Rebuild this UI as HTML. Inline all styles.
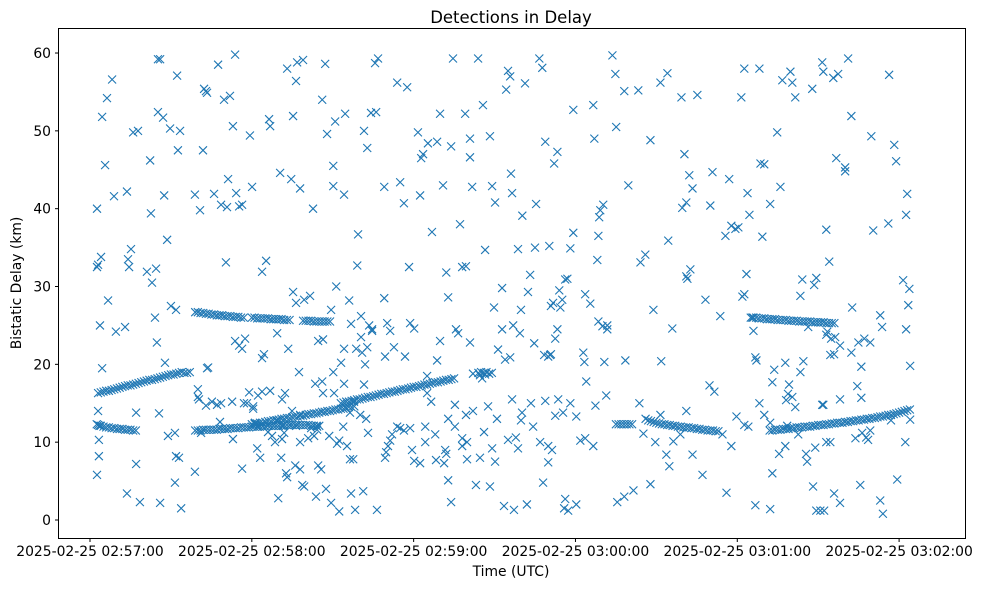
<!DOCTYPE html>
<html><head><meta charset="utf-8"><style>
html,body{margin:0;padding:0;background:#fff;}
svg{display:block;font-family:"DejaVu Sans","Liberation Sans",sans-serif;}
</style></head><body>
<svg id="chart" width="981" height="590" viewBox="0 0 981 590" xmlns="http://www.w3.org/2000/svg">
<rect x="0" y="0" width="981" height="590" fill="#fff"/>
<text x="511" y="23" text-anchor="middle" font-size="16.5" fill="#000">Detections in Delay</text>
<g id="marks"></g>
<rect x="58.5" y="28.5" width="907" height="510" fill="none" stroke="#000" stroke-width="1"/>
<g id="xaxis"></g>
<g id="yaxis"></g>
<text x="511" y="576" text-anchor="middle" font-size="13.9" fill="#000">Time (UTC)</text>
<text transform="translate(21,283) rotate(-90)" text-anchor="middle" font-size="13.9" fill="#000">Bistatic Delay (km)</text>
</svg>
<script>
// time in seconds after 2025-02-25 02:57:00 UTC, delay in km
const xTickSeconds = [0, 60, 120, 180, 240, 300];
const xTickLabels = ["2025-02-25 02:57:00","2025-02-25 02:58:00","2025-02-25 02:59:00","2025-02-25 03:00:00","2025-02-25 03:01:00","2025-02-25 03:02:00"];
const yTicks = [0, 10, 20, 30, 40, 50, 60];
const trackAT = [3,4,5,6,7,8,9,10,11,12,13,14,15,16,17,18,19,20,21,22,23,24,25,26,27,28,29,30,31,32,33,34,35,36,37];
const trackAD = [16.3,16.4,16.5,16.6,16.6,16.7,16.8,16.9,17,17.1,17.2,17.3,17.3,17.4,17.5,17.6,17.7,17.8,17.9,18,18,18.1,18.2,18.3,18.4,18.5,18.6,18.7,18.7,18.8,18.9,19,18.9,18.9,19];
const trackBT = [2.5,3,3.5,4,5,6,7,8,9,10,11,12,13,14,15,16,17];
const trackBD = [12.3,12.2,12.1,12.1,12,11.9,11.9,11.8,11.8,11.7,11.7,11.7,11.6,11.6,11.6,11.5,11.5];
const trackCT = [39,40,41,42,43,44,45,46,47,48,49,50,51,52,53,54,55,56,57,58,59,60,61,62,63,64,65,66,67,68,69,70,71,72,73,74,75,76,77,78,79,80,81,82,83,84,85];
const trackCD = [11.5,11.5,11.5,11.6,11.6,11.6,11.6,11.6,11.6,11.7,11.7,11.7,11.7,11.8,11.8,11.8,11.8,11.9,11.9,11.9,11.9,12,12,12,12,12,12,12.1,12.1,12.1,12.1,12.1,12.1,12.2,12.2,12.2,12.2,12.2,12.2,12.2,12.2,12.2,12.2,12.1,12.1,12.1,12.1];
const trackDT = [60,61,62,63,64,65,66,67,68,69,70,71,72,73,74,75,76,77,78,79,80,81,82,83,84,85,86,87,88,89,90,91,92,93,94,95,96,97,98];
const trackDD = [12.3,12.4,12.4,12.5,12.5,12.6,12.7,12.7,12.8,12.8,12.9,13,13,13.1,13.1,13.2,13.3,13.3,13.4,13.4,13.5,13.6,13.6,13.7,13.7,13.8,13.9,13.9,14,14,14.1,14.2,14.2,14.3,14.3,14.4,14.5,14.5,14.6];
const trackET = [39,40,41,42,43,44,45,46,47,48,49,50,51,52,53,54,55,56,57,60,61,62,63,64,65,66,67,68,69,70,71,72,73,74,79,80,81,82,83,84,85,86,87,88,89];
const trackED = [26.7,26.7,26.6,26.6,26.5,26.5,26.4,26.4,26.3,26.3,26.3,26.2,26.2,26.2,26.1,26.1,26.1,26,26,26,26,25.9,25.9,25.9,25.9,25.9,25.8,25.8,25.8,25.8,25.8,25.7,25.7,25.7,25.6,25.6,25.6,25.6,25.5,25.5,25.5,25.5,25.5,25.5,25.5];
const trackFT = [93,94,95,96,97,98,99,100,101,102,103,104,105,106,107,108,109,110,111,112,113,114,115,116,117,118,119,120,121,122,123,124,125,126,127,128,129,130,131,132,133,134,135,144,145,146,147,148,149];
const trackFD = [15,15.1,15.2,15.2,15.3,15.4,15.5,15.5,15.6,15.7,15.8,15.8,15.9,16,16.1,16.2,16.2,16.3,16.4,16.5,16.5,16.6,16.7,16.8,16.8,16.9,17,17.1,17.1,17.2,17.3,17.4,17.4,17.5,17.6,17.7,17.7,17.8,17.9,18,18,18.1,18.2,18.9,19,18.9,19,18.8,18.9];
const trackGT = [195,196,197,198,199,200,201];
const trackGD = [12.3,12.3,12.3,12.3,12.3,12.3,12.3];
const trackHT = [206,207,208,209,210,211,212,213,214,215,216,217,218,219,220,221,222,223,224,225,226,227,228,229,230,231,232,233];
const trackHD = [13,12.8,12.7,12.6,12.5,12.4,12.3,12.3,12.2,12.2,12.1,12.1,12,12,11.9,11.9,11.9,11.8,11.8,11.7,11.7,11.6,11.6,11.5,11.5,11.5,11.4,11.4];
const trackIT = [245,246,247,248,249,250,251,252,253,254,255,256,257,258,259,260,261,262,263,264,265,266,267,268,269,270,271,272,273,274,275,276];
const trackID = [26,26,26,25.9,25.9,25.9,25.8,25.8,25.8,25.8,25.7,25.7,25.7,25.7,25.6,25.6,25.6,25.6,25.5,25.5,25.5,25.5,25.5,25.4,25.4,25.4,25.4,25.4,25.3,25.3,25.3,25.3];
const trackJT = [252,253,254,255,256,257,258,259,260,261,262,263,264,265,266,267,268,269,270,271,272,273,274,275,276,277,278,279,280,281,282,283,284,285,286,287,288,289,290,291,292,293,294,295,296,297,298,299,300,301,302,303,304];
const trackJD = [11.5,11.5,11.6,11.6,11.6,11.7,11.7,11.7,11.8,11.8,11.9,11.9,11.9,12,12,12,12.1,12.1,12.2,12.2,12.2,12.3,12.3,12.4,12.4,12.5,12.5,12.5,12.6,12.6,12.7,12.7,12.8,12.8,12.9,12.9,13,13,13.1,13.1,13.2,13.3,13.3,13.4,13.5,13.5,13.6,13.7,13.8,13.9,14,14.1,14.2];
const noisePoints = [
[2.6,40],[2.6,32.5],[3,32.8],[3.7,25],[4.1,33.8],[4.5,51.8],[5.6,45.6],[6.3,54.2],[6.7,28.2],[8.2,56.6],[8.9,41.6],[9.6,24.2],[3,14],[3.3,10.3],[3.3,8.2],[2.6,5.8],[4.5,19.5],[13.7,42.2],[14.1,33.5],[14.5,32.5],[13,24.8],[16,49.8],[17.8,50],[15.2,34.8],[17.1,13.8],[17.1,7.2],[18.5,2.3],[13.7,3.4],[21.1,31.9],[22.3,46.2],[22.6,39.4],[23,30.5],[24.1,26],[24.5,32.3],[24.8,22.8],[25.2,59.2],[26,59.2],[25.2,52.4],[27.1,51.7],[27.5,41.7],[28.6,36],[29.7,50.3],[30,27.5],[32.3,57.1],[32.6,47.5],[33.4,50],[31.9,27],[26,2.2],[25.6,13.7],[27.8,20.2],[28.9,10.8],[31.5,11.2],[31.9,8.2],[33,8],[33.8,1.5],[31.5,4.8],
[38.9,41.8],[40.8,39.8],[41.9,47.5],[42.3,55.4],[43,55.1],[43.4,54.9],[40,16.8],[40.4,15.5],[43.4,19.5],[43.8,19.6],[46,41.9],[47.5,58.5],[48.6,40.5],[49.7,54],[50.4,33.1],[51.2,43.8],[50.8,40.2],[51.9,54.5],[53,50.6],[53.8,59.8],[54.2,42],[55.3,40.3],[56.4,40.5],[59.3,49.4],[60.1,42.8],[63.8,31.9],[65.3,33.3],[66.4,51.5],[66.8,50.6],[70.5,44.6],[73.1,58],[74.6,43.8],[75.3,51.9],[76.4,56.4],[76.8,58.8],[77.9,42.6],[79,59.1],[82.7,40],[86.1,54],[87.2,58.6],[87.9,49.6],[90.2,45.5],[90.2,42.9],[90.9,51.2],[94.6,52.2],[94.2,41.8],
[63.8,20.8],[64.5,21.3],[69.4,24],[73.5,22],[75.3,29.3],[76.4,27.9],[79.4,28.3],[81.6,28.8],[84.6,23],[86.4,23.2],[89.4,27],[91.3,30],[94.2,22],[53.8,23],[55.3,22.4],[56.4,22],[57.5,23.3],[56.4,6.6],[62,9.2],[63.1,8],[68.6,10],[70.9,8],[69.8,2.8],[73.1,5.5],[72.7,6],[76.1,7],[78.7,4.5],[79.4,4.3],[80.9,10.5],[83.8,3],[84.6,7],[85.7,6.5],[89.4,2.2],[92.4,1.1],[98.3,1.3],[86.1,17.8],[90.2,19],[83.5,17.5],[93.1,20.2],[94.2,17.5],[86.4,16.3],[66.8,16.6],[71.2,15.5],[69.4,12.8],[60.5,14.6],[58.2,15],[62.3,12],[77.9,10],[77.5,19],[74.9,14],[90.5,16.3],[99.1,32.7],[99.4,36.7],[100.5,26.2],[100.9,21.5],[102,20],[102.8,22.2],[103.5,25],[104.6,24.3],[100.5,23.5],
[102.8,47.8],[101.6,50],[104.2,52.3],[105.7,58.7],[106.8,59.3],[106.1,52.4],[109.1,42.8],[113.9,56.2],[115,43.4],[116.4,40.7],[117.6,55.6],[118.3,32.5],[121.6,49.8],[122.4,41.7],[122.8,46.5],[123.5,47],[125.3,48.4],[126.8,37],[128.7,48.6],[129.8,52.2],[130.9,43],[133.9,48],[134.6,59.3],[137.2,38],[138,32.5],[139.1,52.2],[139.4,32.6],[140.9,46.6],[143.9,59.3],[145.7,53.3],[148.3,49.3],[149.1,42.9],[150.2,40.8],[152.8,24.5],[154.3,55.3],[155,57.7],[155.8,57],[156.1,44.5],[156.5,42],[158.7,34.8],[160.3,39.1],[161.3,56.1],[165.4,40.6],[166.6,59.3],[167.7,58.1],[168.8,48.6],[170.3,35.2],[172.1,45.8],[173.3,47.3],[174.4,27.3],[175.1,28.3],[176.2,30.9],[177,31],[178.1,34.9],[174,29.5],[179.2,52.7],[179.2,36.9],[182.9,21.5],[183.3,20.3],[183.6,29],[185.5,27.8],[186.6,53.3],[187,49],[188.1,33.4],[188.5,36.5],[188.8,38.9],[189.2,39.8],[190.3,40.5],[191.8,25],[193.7,59.7],[194.8,57.3],[195.1,50.5],[198.1,55.1],[199.6,43],[203.3,55.2],[204.1,33.1],[205.9,34.1],[207.8,48.8],[208.9,27],[211.5,56.2],[214.1,57.4],[214.4,35.9],[215.9,24.6],[219.3,54.3],[219.6,40.1],[220.4,47],[221.1,40.8],[222.2,44.3],[223.4,42.6],[222.6,32.2],[221.1,31.3],[221.5,31],[225.2,54.6],[228.2,28.3],[230,40.4],[230.8,44.7],[233.7,26.2],[235.6,36.5],[237,43.8],[237.8,37.8],[239.3,37.4],[240.4,37.6],[241.5,54.3],[242.6,58],[243.4,31.6],[242.6,29],[243.8,42],[244.5,39.2],[245.6,26],[246,24.3],[246.7,20.9],[247.1,20.5],[248.2,58],[248.6,45.8],[249.3,36.4],[250,45.7],[252.2,40.6],[253,17.7],[253.7,19.3],[254.8,49.8],[256,42.8],[256.7,56.5],[259.7,57.6],[260.4,56.2],[261.5,54.3],[263.4,28.8],[264.1,30.9],[264.5,20.4],[266.3,24.8],[267.8,55.4],[268.5,30.2],[269.3,31.1],[271.5,58.8],[271.9,57.6],[273,37.3],[273.4,24.2],[274.1,33.2],[274.8,23.3],[275.6,56.8],[276.7,46.5],[277.4,57.3],[280,45.3],[280,44.8],[281.1,59.3],[282.3,51.9],[282.6,27.3],[284.5,17.2],[286,15.7],[286,19.7],[289.7,49.3],[290.4,37.2],[293,26.3],[293.7,24.8],[296,38.1],[296.3,57.2],[298.2,48.2],[298.9,46.1],[301.5,30.8],[302.6,39.2],[302.6,24.5],[303,41.9],[303.8,29.7],[303.4,27.6],[304.1,19.8],[302.3,10],[304.1,12.9],[299.3,5.2],[297,12.8],[293,2.5],[294,0.8],[285.6,4.5],[283.8,10.5],[286.3,11.2],[287.8,10.6],[289.3,11.5],[288.5,10.3],[278.1,2.2],[275.9,3.4],[272.2,1.2],[269.3,1.2],[268.1,4.3],[265.5,8.5],[265.9,7.5],[268.9,9.3],[273,10],[274.5,10],[270.8,1.2],[257.8,9.5],[255.5,8.5],[253,6],[252.2,1.4],[246.7,1.9],[248.2,15],[250,13.5],[252.2,12.5],[258.5,12.1],[258.1,15.4],[261.5,14.5],[257.8,20.2],[259.2,17.4],[258.8,16.2],[260.4,15.8],[262.6,11],[263.4,19],[271.5,14.8],[271.9,14.8],[274.5,21.2],[276.3,23.5],[278.1,15.5],[278.1,22.4],[282.3,21.5],[284.9,22.8],[287.1,23.3],[289.3,22.8],[273,23.8],[275.9,21.3],
[135.3,12],[138,10.5],[138,9.5],[139.4,13.5],[139.8,7.8],[139.8,10],[142,14],[143.1,4.5],[144.6,8],[146.1,11.3],[148.3,4.3],[149.1,9.2],[150.2,7.5],[150.9,13],[153.5,1.8],[155,10.3],[156.5,15.5],[157.2,1.3],[157.9,10.6],[158.7,9.2],[159.8,12.8],[160.2,13.8],[162,2],[163.5,15],[164.3,12],[166.9,10],[168,4.8],[168.8,15.3],[169.9,9.5],[169.9,7.4],[171.3,9],[172.5,13.4],[173.6,15.5],[175.4,13.8],[175.8,1.5],[176.2,2.7],[177.3,1.2],[178.1,15],[180.3,2],[180.3,13.3],[181.8,10.2],[183.6,10.5],[184,17.8],[186.6,9.5],[187.4,14.7],[188.5,25.5],[190,24.9],[190.7,20.3],[191.4,16],[191.8,24.5],[195.5,2.3],[198.1,3],[198.5,20.5],[201.5,3.8],[203.7,15],[205.2,11.1],[207.8,4.6],[209.6,10],[211.5,13.5],[211.8,20.4],[213.7,8.4],[214.8,6.9],[216.3,10.1],[218.9,11],[221.1,14],[223.4,8.4],[227.1,5.8],[229.7,17.3],[231.5,16.5],[234.5,11],[236,3.5],[239.7,13.3],[241.9,28.7],[237.8,9.5],[242.6,12.2],[244.1,12],
[124.3,10],[124.3,12],[120.2,7.6],[122.4,7.3],[128.3,7.7],[128,11],[131.3,7.3],[132.1,8.5],[131.7,9],[132.8,13],[133.9,2.3],[132.8,5.1],[118.7,11.8],[116.4,11.5],[113.9,12],[115,11.8],[111.3,10.2],[109.8,8.7],[109.4,8],[110.5,9.5],[112,11],[106.4,1.3],[109.4,21],[112.7,22.2],[116.8,21],[135.3,14.8],[129.8,23],[128.7,20.5],[125,18.5],[136.5,24],[132.1,31.8],[132.8,28.6],[140.9,22.8],[142,18.8],[144.6,18.6],[145.4,18.2],[146.5,18.7],[146.5,34.7],[149.8,27.3],[151.3,21.9],[153.9,20.6],[155.8,20.9],[156.9,25],[147.6,14.6],[159.8,27],[165,35],[170.9,27.5],[171.7,27.9],[168.4,21.2],[169.9,21],[170.6,21.2],[170.9,21.3],[172.5,23.3],[173.3,24.5],[164.7,22.7],[163.2,31.5],[162.4,29.3],[159.4,24],[152.8,29.8],[109.1,28.5],[140.9,49],[141.7,42.8],[119.4,9],[135.7,24.5],[120.2,24.6],[126.5,15.2],[125,16.3],[118.7,25.3],[97.9,15.2],[98.7,22],[96.1,28.2],[96.8,25.2],[101.6,17.4],[104.6,24.5],[111.3,24.3],[110.2,25.3],
[38.9,6.2],[40,15.8],[41.2,11.2],[43,14.7],[45.2,15.2],[47.1,14.8],[48.6,15],[48.2,12.6],[52.7,15.2],[53,10.4],[57.1,15],[61.2,12.3],[62.3,16],[63.8,16.5],[59,16.4],[60.5,14.3],[71.6,12.1],[74.2,12.2],[76.4,12.1],[71.2,10.4],[72,11.2],[77.9,13.5],[67.5,10.8],[66,11.3],[82,11.8],[84.2,11.6],[83.1,10.8],[72.3,16.3],[61.2,12.5],[88.7,10.8],[91.6,9.8],[92.4,10.2],[95.3,9.5],[96.4,13.8],[97.6,7.8],[100.2,13.5],[103.1,11.2],[102.4,13],[93.9,12],[96.4,7.8],[96.8,3.4],[101.3,3.7],[87.5,4],[77.9,6.5],[84.2,12]
];

const NS = "http://www.w3.org/2000/svg";
const X0 = 90, XPS = 2.697, Y0 = 520, YPK = 7.783;
function xScale(s){ return X0 + s * XPS; }
function yScale(d){ return Y0 - d * YPK; }

const marks = document.getElementById('marks');
function drawX(s, d, name){
  const cx = xScale(s), cy = yScale(d), h = 4;
  const p = document.createElementNS(NS, 'path');
  p.setAttribute('d', `M${cx-h},${cy-h}L${cx+h},${cy+h}M${cx-h},${cy+h}L${cx+h},${cy-h}`);
  p.setAttribute('stroke', '#1f77b4');
  p.setAttribute('stroke-width', '1.1');
  p.setAttribute('fill', 'none');
  
  
  marks.appendChild(p);
}
const tracks = [[trackAT,trackAD],[trackBT,trackBD],[trackCT,trackCD],[trackDT,trackDD],[trackET,trackED],[trackFT,trackFD],[trackGT,trackGD],[trackHT,trackHD],[trackIT,trackID],[trackJT,trackJD]];
tracks.forEach(tr => { for (let i = 0; i < tr[0].length; i++) drawX(tr[0][i], tr[1][i], 'detection-point'); });
noisePoints.forEach(p => drawX(p[0], p[1], 'detection-point'));

const xa = document.getElementById('xaxis');
xTickSeconds.forEach((s, i) => {
  const x = xScale(s);
  const t = document.createElementNS(NS, 'line');
  t.setAttribute('x1', x); t.setAttribute('x2', x); t.setAttribute('y1', 538.5); t.setAttribute('y2', 542);
  t.setAttribute('stroke', '#000');
  
  
  xa.appendChild(t);
  const l = document.createElementNS(NS, 'text');
  l.setAttribute('x', x); l.setAttribute('y', 556); l.setAttribute('text-anchor', 'middle'); l.setAttribute('font-size', '13.9');
  
  
  l.textContent = xTickLabels[i];
  xa.appendChild(l);
});
const ya = document.getElementById('yaxis');
yTicks.forEach(v => {
  const y = yScale(v);
  const t = document.createElementNS(NS, 'line');
  t.setAttribute('x1', 55); t.setAttribute('x2', 58.5); t.setAttribute('y1', y); t.setAttribute('y2', y);
  t.setAttribute('stroke', '#000');
  
  
  ya.appendChild(t);
  const l = document.createElementNS(NS, 'text');
  l.setAttribute('x', 51); l.setAttribute('y', y + 5); l.setAttribute('text-anchor', 'end'); l.setAttribute('font-size', '13.9');
  
  
  l.textContent = String(v);
  ya.appendChild(l);
});
</script>
</body></html>
